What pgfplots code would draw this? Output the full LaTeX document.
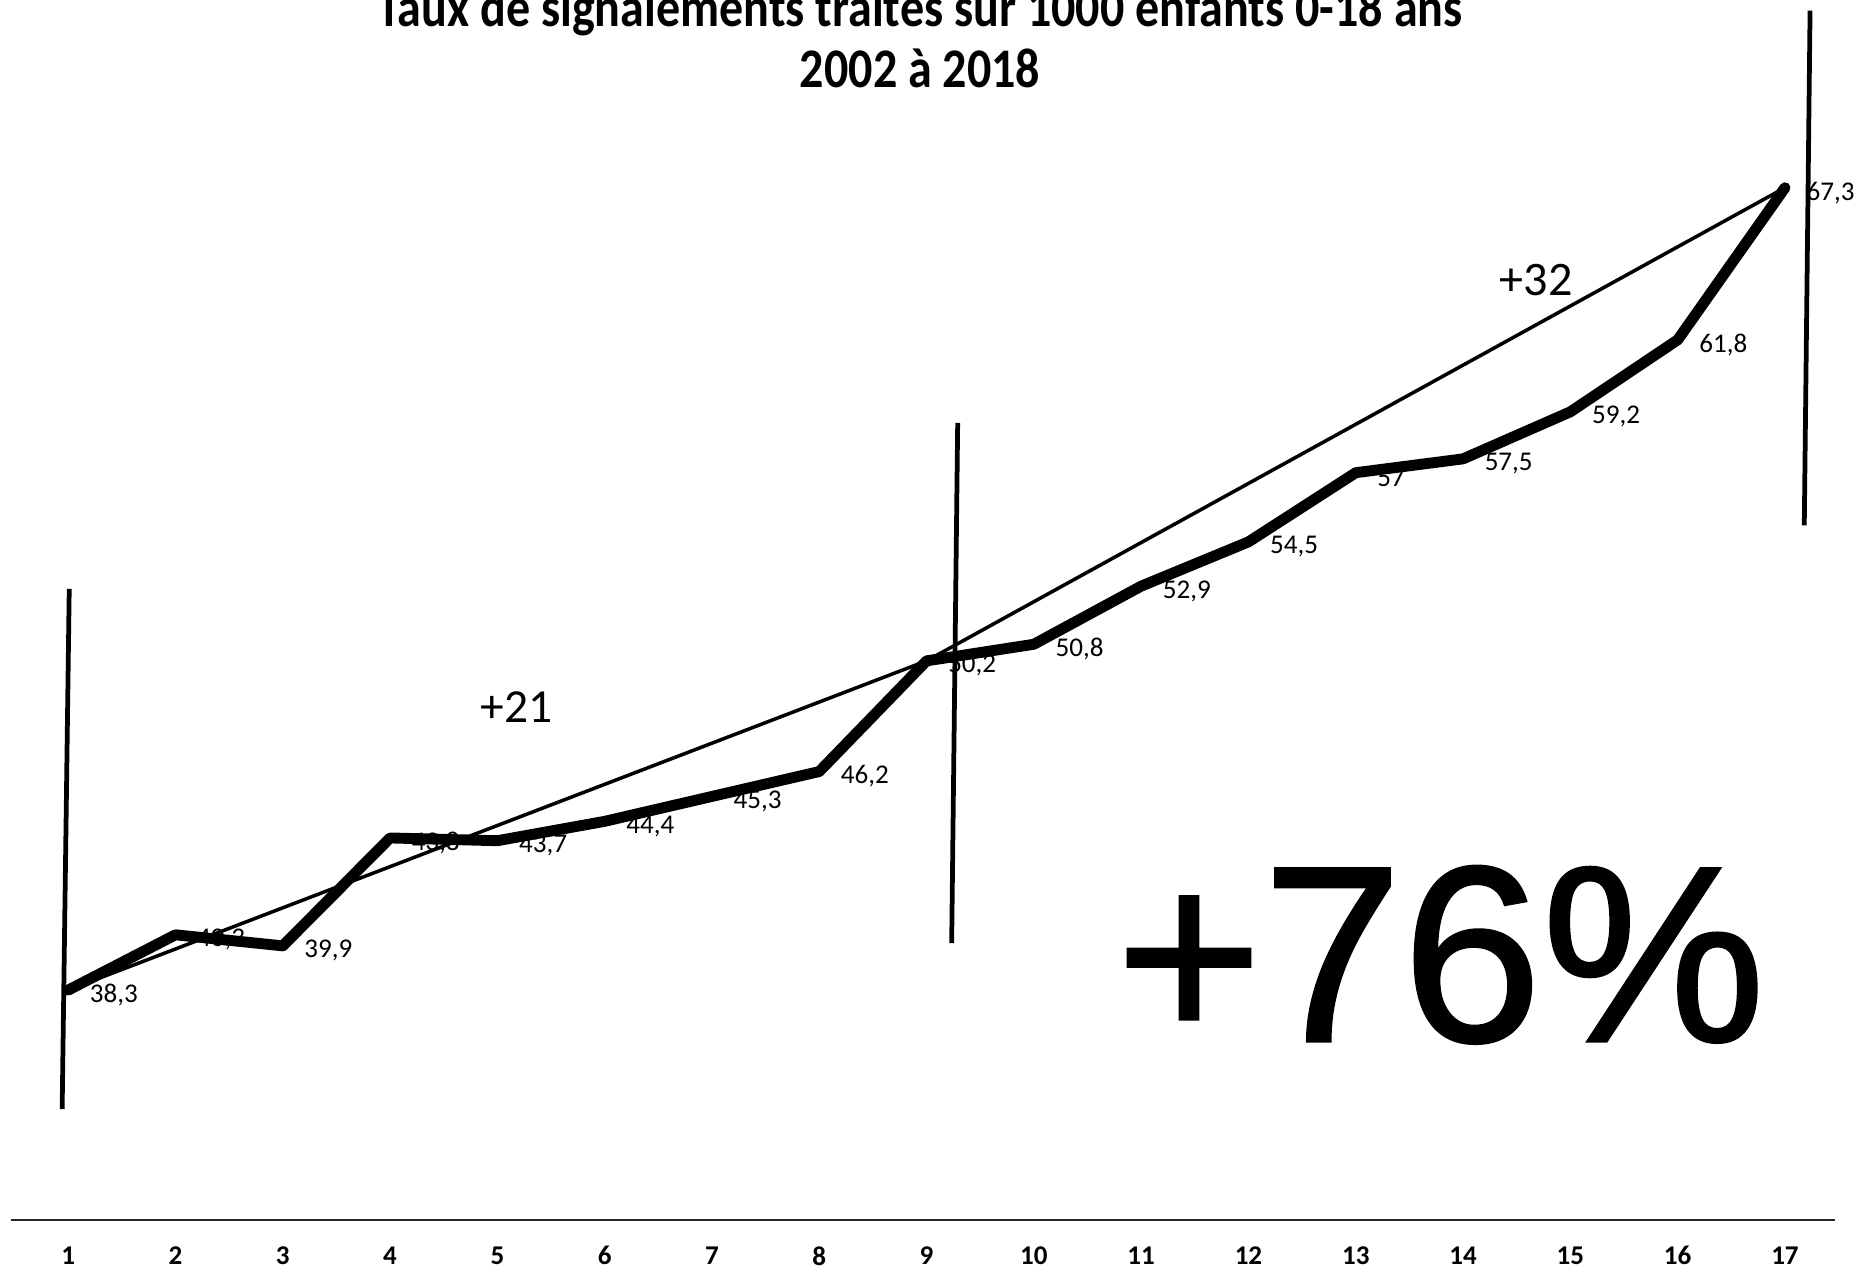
\documentclass[border=0pt]{standalone}
\usepackage{fontspec}
\setmainfont{Carlito}
\newfontfamily\titlefont[FakeStretch=0.86]{Carlito}
\newfontfamily\arialfont[FakeBold=1]{Liberation Sans}
\usepackage{pgfplots}
\pgfplotsset{compat=1.18}

\pgfplotstableread{
x y lab
1 38.3 {38,3}
2 40.3 {40,3}
3 39.9 {39,9}
4 43.8 {43,8}
5 43.7 {43,7}
6 44.4 {44,4}
7 45.3 {45,3}
8 46.2 {46,2}
9 50.2 {50,2}
10 50.8 {50,8}
11 52.9 {52,9}
12 54.5 {54,5}
13 57 {57}
14 57.5 {57,5}
15 59.2 {59,2}
16 61.8 {61,8}
17 67.3 {67,3}
}\taux

\begin{document}
\begin{tikzpicture}
\path[use as bounding box] (-0.113cm,-0.552cm) rectangle (18.637cm,12.198cm);
\begin{axis}[
    scale only axis,
    width=18.241cm, height=12.175cm,
    xmin=0.47, xmax=17.47,
    ymin=30, ymax=74,
    clip=false,
    axis x line=bottom,
    axis y line=none,
    axis line style={-, line width=0.7pt, black!85},
    xtick={1,...,17},
    major tick length=0pt,
    /pgf/number format/assume math mode=true,
    xticklabel style={anchor=center, yshift=-0.36cm, font=\bfseries\fontsize{7.7}{9}\selectfont},
    ytick=\empty,
]
% etiquettes (sous les courbes)
\addplot[draw=none, mark=none, nodes near coords, point meta=explicit symbolic,
    nodes near coords style={anchor=west, inner sep=0pt, xshift=0.21cm, yshift=-0.05cm,
    font=\fontsize{7.7}{9}\selectfont}]
    table[x=x, y=y, meta=lab] {\taux};
% droite de tendance
\addplot[black, line width=1pt, mark=none] coordinates {(1,38.3) (9,50.2) (17,67.3)};
% courbe
\addplot[black, line width=3.1pt, mark=none, line join=round, line cap=round] table[x=x, y=y] {\taux};
% traits verticaux
\addplot[black, line width=1.35pt, mark=none] coordinates {(1.01,52.8) (0.944,34)};
\addplot[black, line width=1.35pt, mark=none] coordinates {(9.29,58.8) (9.234,40)};
\addplot[black, line width=1.35pt, mark=none] coordinates {(17.234,73.7) (17.18,55.1)};

\node[anchor=base, font=\titlefont\bfseries\fontsize{15.9}{18}\selectfont] at (axis cs:8.94,73.13) {Taux de signalements traités sur 1000 enfants 0-18 ans};
\node[anchor=base, font=\titlefont\bfseries\fontsize{15.9}{18}\selectfont] at (axis cs:8.94,70.93) {2002 à 2018};
\node[anchor=base, font=\fontsize{13.5}{16}\selectfont] at (axis cs:5.18,47.98) {+21};
\node[anchor=base, font=\fontsize{13.7}{16}\selectfont] at (axis cs:14.68,63.41) {+32};
\node[anchor=base, font=\arialfont\fontsize{71.5}{78}\selectfont] at (axis cs:13.79,36.45) {+76\%};
\end{axis}
\end{tikzpicture}
\end{document}
